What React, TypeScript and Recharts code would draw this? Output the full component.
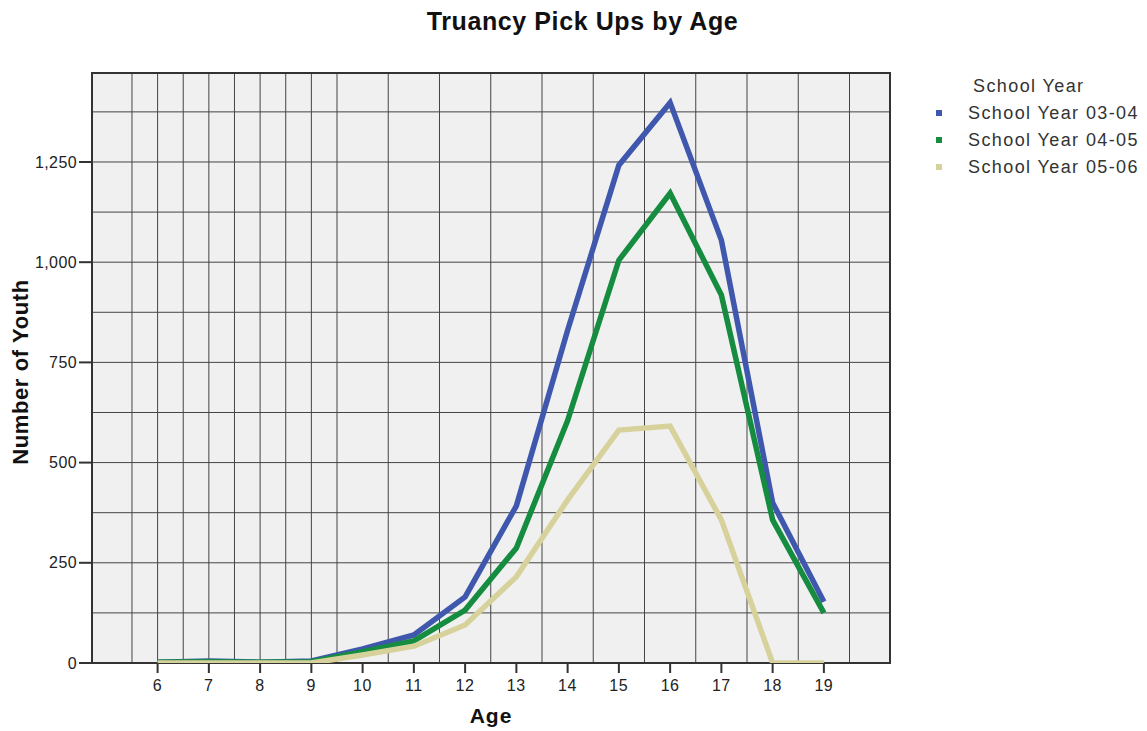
import * as React from "react"
import { LineChart, Line, XAxis, YAxis, CartesianGrid, Legend, ReferenceArea, Label } from "recharts"

const ages = [6, 7, 8, 9, 10, 11, 12, 13, 14, 15, 16, 17, 18, 19]
const year0304 = [2, 5, 2, 5, 35, 70, 165, 392, 830, 1242, 1398, 1055, 400, 153]
const year0405 = [2, 3, 2, 3, 28, 55, 132, 287, 605, 1005, 1172, 918, 357, 125]
const year0506 = [0, 0, 0, 0, 20, 42, 95, 215, 407, 581, 591, 357, 0, 0]

const xTicks = [6, 7, 8, 9, 10, 11, 12, 13, 14, 15, 16, 17, 18, 19]
const yTicks = [0, 250, 500, 750, 1000, 1250]
const xGrid = [5.5, 6, 6.5, 7, 7.5, 8, 8.5, 9, 9.5, 10, 10.5, 11, 11.5, 12, 12.5, 13, 13.5, 14, 14.5, 15, 15.5, 16, 16.5, 17, 17.5, 18, 18.5, 19, 19.5]
const yGrid = [125, 250, 375, 500, 625, 750, 875, 1000, 1125, 1250, 1375]

const X_MIN = 4.72
const X_MAX = 20.29
const Y_MAX = 1472

const data = ages.map((age, i) => ({
  age,
  y0304: year0304[i],
  y0405: year0405[i],
  y0506: year0506[i],
}))

const FONT = "'Liberation Sans', Arial, sans-serif"

function LegendBox({ payload }: any) {
  return (
    <div style={{ fontFamily: FONT, color: "#333", fontSize: 18, letterSpacing: 1.4 }}>
      <div style={{ height: 25.5, lineHeight: "25.5px", marginLeft: 43 }}>School Year</div>
      {(payload || []).map((p: any) => (
        <div key={p.value} style={{ display: "flex", alignItems: "center", height: 27, lineHeight: "27px" }}>
          <span style={{ width: 6, height: 6, background: p.color, marginLeft: 6, marginRight: 26 }} />
          <span>{p.value}</span>
        </div>
      ))}
    </div>
  )
}

export default function App() {
  return (
    <div style={{ position: "absolute", left: 0, top: 0, width: 1147, height: 731, background: "#fff" }}>
      <div
        style={{
          position: "absolute",
          left: 0,
          width: 1165,
          top: 7,
          textAlign: "center",
          fontFamily: FONT,
          fontWeight: "bold",
          fontSize: 25,
          letterSpacing: 0.6,
          color: "#111",
        }}
      >
        Truancy Pick Ups by Age
      </div>
      <LineChart width={1147} height={731} data={data} margin={{ top: 73, right: 257, bottom: 0, left: 0 }}>
        <CartesianGrid
          fill="#f0f0f0"
          stroke="#444"
          strokeWidth={1}
          verticalValues={xGrid}
          horizontalValues={yGrid}
        />
        <XAxis
          dataKey="age"
          type="number"
          domain={[X_MIN, X_MAX]}
          ticks={xTicks}
          allowDataOverflow
          height={68}
          axisLine={false}
          tickSize={10}
          tickMargin={7}
          tickLine={{ stroke: "#333", strokeWidth: 2 }}
          tick={{ fontFamily: FONT, fontSize: 16, fill: "#222", letterSpacing: 0.6 }}
        >
          <Label
            content={({ viewBox }: any) => (
              <text
                x={viewBox.x + viewBox.width / 2}
                y={723}
                textAnchor="middle"
                fontFamily={FONT}
                fontWeight="bold"
                fontSize={21}
                letterSpacing={1}
                fill="#111"
              >
                Age
              </text>
            )}
          />
        </XAxis>
        <YAxis
          type="number"
          domain={[0, Y_MAX]}
          ticks={yTicks}
          allowDataOverflow
          width={92}
          axisLine={false}
          tickSize={13}
          tickMargin={2}
          tickLine={{ stroke: "#333", strokeWidth: 2 }}
          tickFormatter={(v: number) => v.toLocaleString("en-US")}
          tick={{ fontFamily: FONT, fontSize: 16, fill: "#222", letterSpacing: 0.4 }}
        >
          <Label
            content={() => {
              const cx = 28
              const cy = 372
              return (
                <text
                  x={cx}
                  y={cy}
                  transform={`rotate(-90 ${cx} ${cy})`}
                  textAnchor="middle"
                  fontFamily={FONT}
                  fontWeight="bold"
                  fontSize={22}
                  letterSpacing={0.6}
                  fill="#111"
                >
                  Number of Youth
                </text>
              )
            }}
          />
        </YAxis>
        <ReferenceArea x1={X_MIN} x2={X_MAX} y1={0} y2={Y_MAX} fill="none" stroke="#333" strokeWidth={2} ifOverflow="visible" />
        <Line dataKey="y0304" name="School Year 03-04" stroke="#3f58ad" strokeWidth={5.5} dot={false} isAnimationActive={false} />
        <Line dataKey="y0405" name="School Year 04-05" stroke="#158c3f" strokeWidth={5.5} dot={false} isAnimationActive={false} />
        <Line dataKey="y0506" name="School Year 05-06" stroke="#d7d29c" strokeWidth={5.5} dot={false} isAnimationActive={false} />
        <Legend
          layout="vertical"
          verticalAlign="middle"
          align="center"
          content={<LegendBox />}
          wrapperStyle={{ position: "absolute", left: 930, top: 74, width: 217 }}
        />
      </LineChart>
    </div>
  )
}
